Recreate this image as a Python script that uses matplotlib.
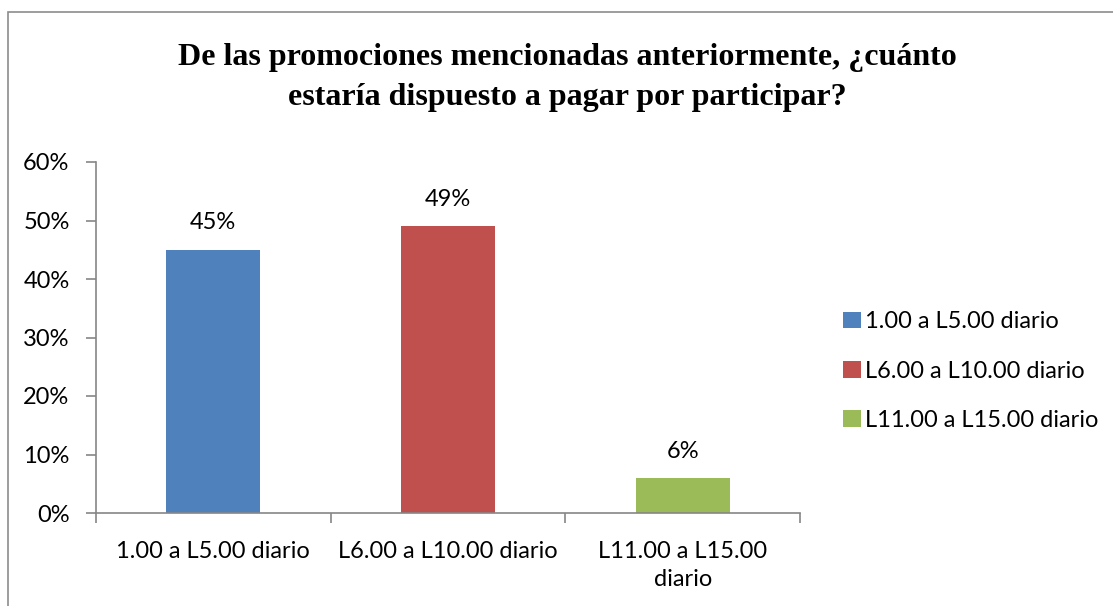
import numpy as np
import matplotlib.pyplot as plt
from matplotlib.patches import Rectangle
from matplotlib.ticker import PercentFormatter

#==========================================================
# data
#==========================================================
categories = ['1.00 a L5.00 diario', 'L6.00 a L10.00 diario', 'L11.00 a L15.00 diario']
tick_labels = ['1.00 a L5.00 diario', 'L6.00 a L10.00 diario', 'L11.00 a L15.00\ndiario']
values = [0.45, 0.49, 0.06]
colors = ['#4F81BD', '#C0504D', '#9BBB59']
title = 'De las promociones mencionadas anteriormente, ¿cuánto\nestaría dispuesto a pagar por participar?'

#==========================================================
# plot
#==========================================================
plt.rcParams['font.family'] = ['Lato', 'DejaVu Sans']
axis_col = '#868686'
fs = 17

fig = plt.figure(figsize=(11.13, 6.06), dpi=100)
ax = fig.add_axes([96/1113, 93/606, 704/1113, 351/606])

x = np.arange(len(values))
bars = ax.bar(x, values, width=0.4, color=colors, label=categories)
for xi, v in zip(x, values):
    ax.text(xi, v + 0.028, '{:.0f}%'.format(v*100), ha='center', va='bottom', fontsize=fs)

ax.set_xlim(-0.5, 2.5)
ax.set_ylim(0, 0.6)
ax.set_yticks(np.arange(0, 0.61, 0.1))
ax.yaxis.set_major_formatter(PercentFormatter(1.0, decimals=0))
ax.set_xticks([-0.5, 0.5, 1.5, 2.5])
ax.set_xticklabels([])
ax.set_xticks(x, minor=True)
ax.set_xticklabels(tick_labels, minor=True, fontsize=fs, linespacing=1.45)
ax.tick_params(axis='x', which='minor', length=0, pad=20)
ax.tick_params(axis='x', which='major', length=7, width=1.2, color=axis_col)
ax.tick_params(axis='y', length=7, width=1.2, color=axis_col, labelsize=fs, pad=12)

for s in ['top', 'right']:
    ax.spines[s].set_visible(False)
for s in ['left', 'bottom']:
    ax.spines[s].set_color(axis_col)
    ax.spines[s].set_linewidth(1.2)

fig.text(567/1113, 1 - 77/606, title, ha='center', va='center', fontsize=23,
         family='Liberation Serif', weight='bold', linespacing=1.5)

leg = fig.legend(handles=bars, labels=categories, loc='center left',
                 bbox_to_anchor=(843/1113, 1 - 371/606), frameon=False, fontsize=fs,
                 borderpad=0, borderaxespad=0,
                 handlelength=0.75, handleheight=0.7, handletextpad=0.2, labelspacing=1.2)

# outer border of chart area
fig.patches.append(Rectangle((8/1113, -0.1), 1.2, 1 - 12/606 + 0.1, transform=fig.transFigure,
                             fill=False, edgecolor='#8c8c8c', linewidth=1.2))

plt.savefig('out.png', dpi=100)
plt.close()
